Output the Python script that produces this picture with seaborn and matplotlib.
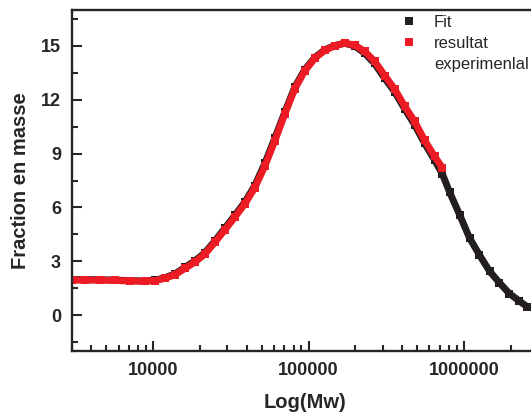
import matplotlib
matplotlib.use("Agg")
import matplotlib.pyplot as plt
import matplotlib.ticker as mticker
from matplotlib.lines import Line2D
import numpy as np
import pandas as pd
import seaborn as sns

# molar mass (Mw) and mass fraction
exp_mw = [3000, 3640, 4540, 5670, 7080, 8850, 10260, 11890, 13800, 16000,
          18540, 21500, 24940, 28900, 33500, 38900, 45100, 52300, 60600,
          70300, 81500, 94400, 109600, 127000, 147200, 170700, 198000,
          229500, 266000, 309000, 358000, 415000, 481000, 558000, 647000,
          728000]
exp_frac = [1.95, 1.95, 1.95, 1.93, 1.9, 1.88, 1.92, 2.05, 2.25, 2.6,
            2.95, 3.4, 4.05, 4.75, 5.45, 6.2, 7.1, 8.3, 9.7,
            11.2, 12.6, 13.6, 14.3, 14.75, 15.0, 15.15, 15.05,
            14.7, 14.15, 13.35, 12.6, 11.65, 10.8, 9.75, 8.85,
            8.2]

fit_mw = [3000, 3640, 4540, 5670, 7080, 8850, 10260, 11890, 13800, 16000,
          18540, 21500, 24940, 28900, 33500, 38900, 45100, 52300, 60600,
          70300, 81500, 94400, 109600, 127000, 147200, 170700, 198000,
          229500, 266000, 309000, 358000, 415000, 481000, 558000, 647000,
          728000, 809000, 938000, 1087000, 1260000, 1462000, 1694000,
          1964000, 2276000, 2564000]
fit_frac = [1.98, 1.98, 1.97, 1.95, 1.92, 1.9, 1.95, 2.08, 2.3, 2.66,
            3.02, 3.47, 4.13, 4.84, 5.55, 6.3, 7.22, 8.45, 9.85,
            11.3, 12.7, 13.67, 14.35, 14.78, 15.02, 15.15, 15.0,
            14.6, 14.02, 13.2, 12.45, 11.5, 10.62, 9.58, 8.65,
            7.85, 6.85, 5.6, 4.3, 3.35, 2.45, 1.8,
            1.2, 0.78, 0.46]

x_ticks = [10000, 100000, 1000000]
y_ticks = [0, 3, 6, 9, 12, 15]

sns.set_style("ticks")
plt.rcParams['font.family'] = ['Liberation Sans', 'DejaVu Sans']

black = '#231f20'
red = '#ed1c24'

fig = plt.figure(figsize=(5.31, 4.18), dpi=100)
ax = fig.add_axes([72 / 531, 67 / 418, 466 / 531, 341 / 418])

fit_df = pd.DataFrame({'mw': fit_mw, 'frac': fit_frac})
exp_df = pd.DataFrame({'mw': exp_mw, 'frac': exp_frac})

sns.lineplot(data=fit_df, x='mw', y='frac', ax=ax, color=black, lw=5,
             marker='s', markersize=5.5, markeredgewidth=0, sort=False)
sns.lineplot(data=exp_df, x='mw', y='frac', ax=ax, color=red, lw=5,
             marker='s', markersize=5.5, markeredgewidth=0, sort=False)

ax.set_xscale('log')
ax.set_xlim(3000, 3000000)
ax.set_ylim(-2, 17)
ax.set_xticks(x_ticks)
ax.set_xticklabels([str(t) for t in x_ticks])
ax.xaxis.set_minor_locator(mticker.LogLocator(base=10, subs=np.arange(2, 10)))
ax.xaxis.set_minor_formatter(mticker.NullFormatter())
ax.set_yticks(y_ticks)
ax.yaxis.set_minor_locator(mticker.MultipleLocator(1.5))

ax.tick_params(which='major', direction='in', length=7, width=1.5,
               labelsize=13, pad=8)
ax.tick_params(which='minor', direction='in', length=4, width=1.5)
for lab in ax.get_xticklabels() + ax.get_yticklabels():
    lab.set_fontweight('bold')

for side in ['left', 'bottom', 'top']:
    ax.spines[side].set_visible(True)
    ax.spines[side].set_linewidth(1.7)
ax.spines['right'].set_visible(False)

ax.set_xlabel("Log(Mw)", fontsize=14.5, fontweight='bold', labelpad=10)
ax.set_ylabel("Fraction en masse", fontsize=14.5, fontweight='bold', labelpad=8)

handles = [Line2D([], [], color=black, marker='s', ls='', markersize=5.5, markeredgewidth=0),
           Line2D([], [], color=red, marker='s', ls='', markersize=5.5, markeredgewidth=0),
           Line2D([], [], ls='', marker='')]
ax.legend(handles, ['Fit', 'resultat', 'experimenlal'], loc='upper left',
          bbox_to_anchor=(327 / 466, 0.99), frameon=False, fontsize=12,
          handlelength=1.0, handletextpad=1.0, labelspacing=0.35,
          borderaxespad=0.1, borderpad=0.0)

fig.savefig("out.png", dpi=100)
